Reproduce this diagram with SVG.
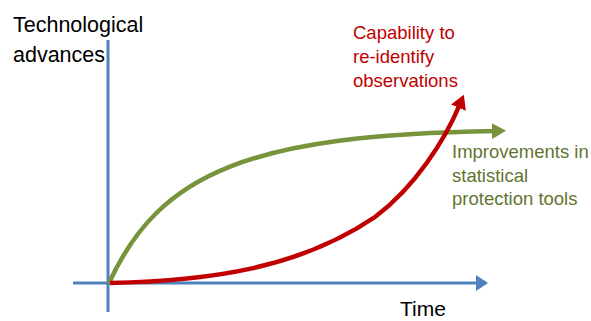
<svg xmlns="http://www.w3.org/2000/svg" width="591" height="321" viewBox="0 0 591 321">
<style>
.ax{stroke:#4F81BD;stroke-width:3;fill:none}
.t{font-family:"Liberation Sans",Arial,sans-serif}
</style>
<defs>
<marker id="mb" markerWidth="12" markerHeight="16" refX="10" refY="8" orient="auto" markerUnits="userSpaceOnUse"><path d="M0,0 L12,8 L0,16 Z" fill="#4F81BD"/></marker>
<marker id="mg" markerWidth="14" markerHeight="16" refX="4" refY="8" orient="auto" markerUnits="userSpaceOnUse"><path d="M0,0 L14,8 L0,16 Z" fill="#77933C"/></marker>
<marker id="mr" markerWidth="14" markerHeight="16" refX="4" refY="8" orient="auto" markerUnits="userSpaceOnUse"><path d="M0,0 L14,8 L0,16 Z" fill="#C00000"/></marker>
</defs>
<rect width="591" height="321" fill="#fff"/>
<g id="connectors">
<line class="ax" x1="108" y1="40" x2="108" y2="312"/>
<line class="ax" x1="73" y1="283" x2="486" y2="283" marker-end="url(#mb)"/>
<path d="M109,283 C160,172 250,135 496,131" stroke="#77933C" stroke-width="4.5" fill="none" marker-end="url(#mg)"/>
<path d="M110,283 C210,281 300,268 375,217 C415,187 445,140 460,104" stroke="#C00000" stroke-width="4.5" fill="none" marker-end="url(#mr)"/>
</g>
<g id="label-y"><text class="t" font-size="21.5" fill="#000"><tspan x="13" y="32">Technological</tspan><tspan x="13" y="62">advances</tspan></text></g>
<g id="label-x"><text class="t" font-size="21" fill="#000" x="400" y="316">Time</text></g>
<g id="label-red"><text class="t" font-size="18.5" fill="#C00000"><tspan x="353" y="39">Capability to</tspan><tspan x="353" y="63">re-identify</tspan><tspan x="353" y="87">observations</tspan></text></g>
<g id="label-green"><text class="t" font-size="18.5" fill="#5F7530"><tspan x="452" y="158">Improvements in</tspan><tspan x="452" y="182">statistical</tspan><tspan x="452" y="205">protection tools</tspan></text></g>
</svg>
